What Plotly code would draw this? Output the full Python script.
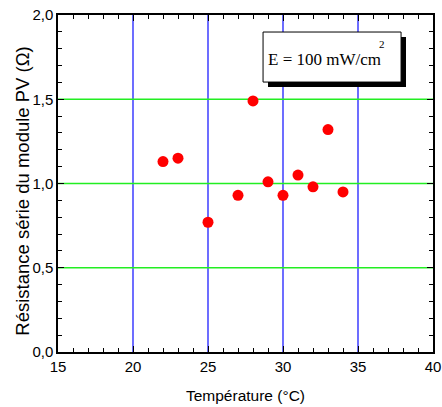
import plotly.graph_objects as go

temperature = [22, 23, 25, 27, 28, 29, 30, 31, 32, 33, 34]
resistance = [1.13, 1.15, 0.77, 0.93, 1.49, 1.01, 0.93, 1.05, 0.98, 1.32, 0.95]

x_grid = [20, 25, 30, 35]
y_grid = [0.5, 1.0, 1.5]

x_title = "Température (°C)"
y_title = "Résistance série du module PV (Ω)"
box_text = "E = 100 mW/cm"

fig = go.Figure()
fig.add_trace(go.Scatter(
    x=temperature, y=resistance, mode="markers",
    marker=dict(color="#ff0000", size=11, symbol="circle", line=dict(width=0)),
    showlegend=False,
))

# grid lines
for gx in x_grid:
    fig.add_shape(type="line", xref="x", yref="paper", x0=gx, x1=gx, y0=0, y1=1,
                  line=dict(color="#3030ff", width=1.4), layer="below")
for gy in y_grid:
    fig.add_shape(type="line", xref="paper", yref="y", x0=0, x1=1, y0=gy, y1=gy,
                  line=dict(color="#22ee22", width=1.5), layer="below")

axis_common = dict(
    showline=True, linecolor="black", linewidth=1.5, mirror="allticks",
    ticks="inside", tickcolor="black", ticklen=6, tickwidth=1,
    tickfont=dict(family="Liberation Sans, Arial", size=15, color="black"),
    zeroline=False, automargin=False, showgrid=False,
)

fig.update_xaxes(
    range=[15, 40], dtick=5, tick0=15,
    minor=dict(dtick=1, ticks="inside", ticklen=4, tickcolor="black", showgrid=False),
    title=dict(text=x_title, font=dict(family="Liberation Sans, Arial", size=15.5, color="black"), standoff=16),
    **axis_common,
)
fig.update_yaxes(
    range=[0, 2.0], dtick=0.5, tick0=0, tickformat=".1f",
    minor=dict(dtick=0.1, ticks="inside", ticklen=4, tickcolor="black", showgrid=False),
    **axis_common,
)

# y-axis title as rotated annotation (for exact placement)
fig.add_annotation(x=-0.094, y=0.478, xref="paper", yref="paper", text=y_title,
                   textangle=-90, showarrow=False, xanchor="center", yanchor="middle",
                   font=dict(family="Liberation Sans, Arial", size=18.5, color="black"))

# Annotation box with shadow
fig.add_shape(type="rect", xref="x", yref="y", x0=29.0, x1=38.2, y0=1.572, y1=1.87,
              fillcolor="black", line=dict(width=0), layer="above")
fig.add_shape(type="rect", xref="x", yref="y", x0=28.67, x1=37.87, y0=1.602, y1=1.899,
              fillcolor="white", line=dict(color="black", width=1), layer="above")
fig.add_annotation(x=32.75, y=1.735, xref="x", yref="y", text=box_text, showarrow=False,
                   font=dict(family="Liberation Serif, Times New Roman", size=17, color="black"))
fig.add_annotation(x=36.6, y=1.825, xref="x", yref="y", text="2", showarrow=False,
                   font=dict(family="Liberation Serif, Times New Roman", size=11, color="black"))

fig.update_layout(
    width=442, height=407,
    margin=dict(l=58, r=9, t=15, b=55),
    plot_bgcolor="white", paper_bgcolor="white",
    separators=", ",
)

fig.write_html("out.html")
